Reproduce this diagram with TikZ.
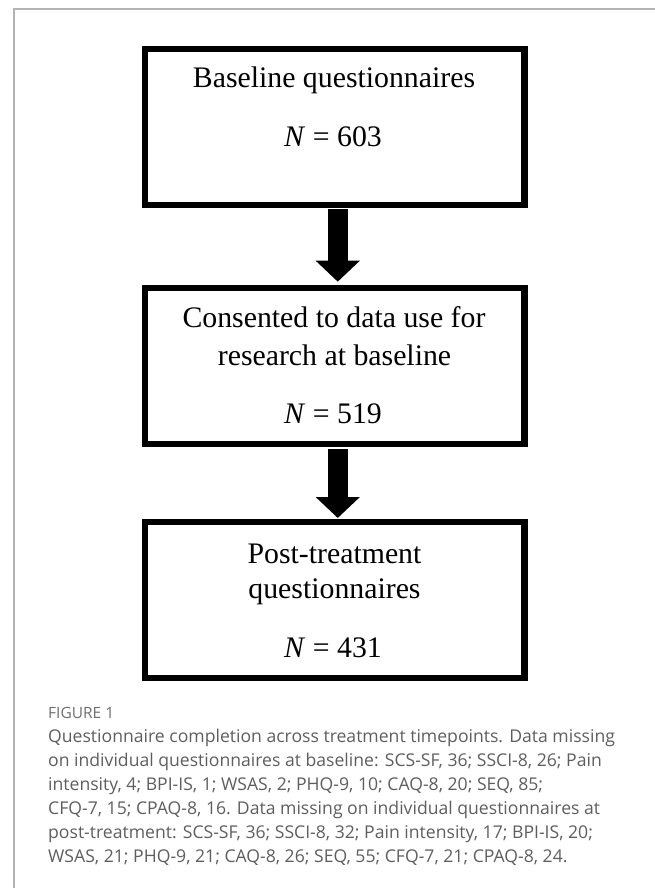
\documentclass[tikz,border=0pt]{standalone}
\usepackage{fontspec}
\setmainfont{Liberation Serif}
\newfontfamily\capfont{Open Sans}
\usetikzlibrary{arrows.meta}
\definecolor{framegray}{HTML}{B4B4B4}
\definecolor{capgray}{HTML}{5E5E5E}
\definecolor{figgray}{HTML}{6E6E6E}
\begin{document}
\begin{tikzpicture}[x=1pt,y=-1pt,
  box/.style={draw=black, line width=6.5pt, minimum width=379.5pt, minimum height=156pt, outer sep=0pt, inner sep=0pt},
  boxtext/.style={anchor=base, inner sep=0pt, font=\fontsize{29.8}{34}\selectfont},
  bigarrow/.style={draw=black, line width=20pt, -{Triangle[width=43pt,length=21pt]}},
  captext/.style={anchor=base west, inner sep=0pt, text=capgray, font=\capfont\fontsize{17.6}{24}\selectfont},
  figlabel/.style={anchor=base west, inner sep=0pt, text=figgray, font=\capfont\fontsize{15.5}{18}\selectfont},
  frameline/.style={draw=framegray, line width=1.5pt}]
\useasboundingbox (0,0) rectangle (655,888);
\draw[frameline] (14,888) -- (14,9) -- (655,9);
% boxes
\node[box] (b1) at (334.75,127) {};
\node[box] (b2) at (334.75,366) {};
\node[box] (b3) at (334.75,600) {};
% box texts
\node[boxtext] (t1a) at (334,88) {Baseline questionnaires};
\node[boxtext] (t1b) at (333,146.7) {\textit{N} = 603};
\node[boxtext] (t2a) at (334,327) {Consented to data use for};
\node[boxtext] (t2b) at (334.5,365) {research at baseline};
\node[boxtext] (t2c) at (333,423) {\textit{N} = 519};
\node[boxtext] (t3a) at (334.5,563) {Post-treatment};
\node[boxtext] (t3b) at (334.5,598.3) {questionnaires};
\node[boxtext] (t3c) at (333,657) {\textit{N} = 431};
% arrows
\draw[bigarrow] ([xshift=3pt,yshift=-4pt]b1.south) -- ([xshift=3pt,yshift=6.3pt]b2.north);
\draw[bigarrow] ([xshift=3pt,yshift=-5pt]b2.south) -- ([xshift=3pt,yshift=4pt]b3.north);
% caption
\node[figlabel] (fig) at (48,718) {FIGURE 1};
\node[captext] (c1) at (48,742) {Questionnaire completion across treatment timepoints. Data missing};
\node[captext] (c2) at (48,766) {on individual questionnaires at baseline: SCS-SF, 36; SSCI-8, 26; Pain};
\node[captext] (c3) at (48,790) {intensity, 4; BPI-IS, 1; WSAS, 2; PHQ-9, 10; CAQ-8, 20; SEQ, 85;};
\node[captext] (c4) at (48,814) {CFQ-7, 15; CPAQ-8, 16. Data missing on individual questionnaires at};
\node[captext] (c5) at (48,838) {post-treatment: SCS-SF, 36; SSCI-8, 32; Pain intensity, 17; BPI-IS, 20;};
\node[captext] (c6) at (48,862) {WSAS, 21; PHQ-9, 21; CAQ-8, 26; SEQ, 55; CFQ-7, 21; CPAQ-8, 24.};
\end{tikzpicture}
\end{document}
